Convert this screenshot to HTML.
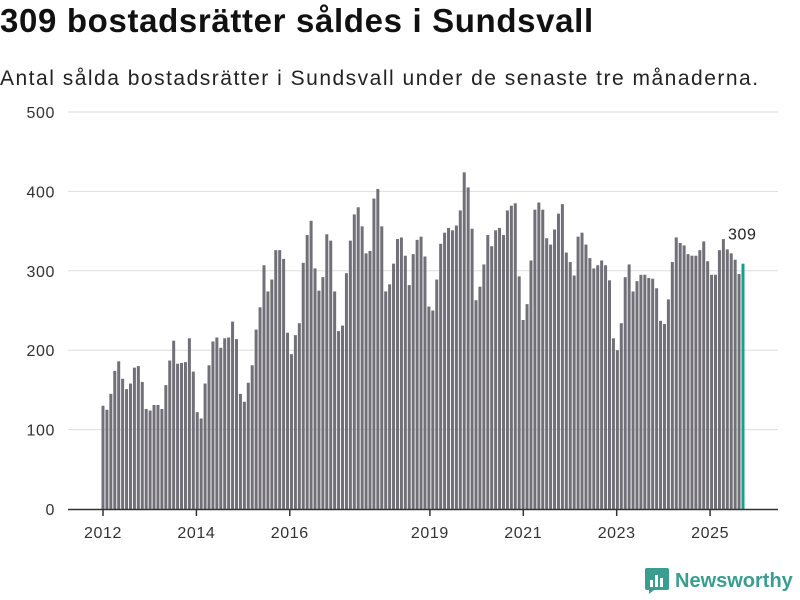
<!DOCTYPE html>
<html><head><meta charset="utf-8"><style>
body{margin:0;background:#fff;font-family:"Liberation Sans","DejaVu Sans",sans-serif;}
.wrap{position:relative;width:800px;height:600px;overflow:hidden}
h1{position:absolute;left:0;top:2px;margin:0;font-size:33px;letter-spacing:0.65px;font-weight:bold;color:#111;white-space:nowrap}
.sub{position:absolute;left:0;top:67px;font-size:21px;letter-spacing:1.5px;color:#222;white-space:nowrap}
svg{position:absolute;left:0;top:0}
.logo{position:absolute;left:645px;top:568px;display:flex;align-items:center;gap:6px;color:#3a9d8f;font-weight:bold;font-size:20px}
</style></head><body>
<div class="wrap">
<h1>309 bostadsrätter såldes i Sundsvall</h1>
<div class="sub">Antal sålda bostadsrätter i Sundsvall under de senaste tre månaderna.</div>
<svg id="c" width="800" height="600"></svg>
<div class="logo">
<svg width="24" height="26" viewBox="0 0 24 26" style="position:static"><rect x="0" y="0" width="24" height="22" rx="2" fill="#3a9d8f"/><path d="M4 22 L4 26 L9 22Z" fill="#3a9d8f"/><rect x="5" y="12" width="3" height="7" fill="#fff"/><rect x="10" y="7" width="3" height="12" fill="#fff"/><rect x="15" y="10" width="3" height="9" fill="#fff"/></svg>
<span>Newsworthy</span></div>
</div>
<script>
const values=[130,125,145,174,186,164,151,158,178,180,160,126,
124,131,131,126,156,187,212,183,184,185,215,173,
122,114,158,181,211,216,203,215,216,236,214,145,
135,159,181,226,254,307,274,289,326,326,315,222,
195,219,234,310,345,363,303,275,292,346,338,274,
224,231,297,338,371,380,356,322,325,391,403,356,
274,283,309,340,342,319,282,321,339,343,318,255,
250,289,334,348,354,351,357,376,424,405,353,263,
280,308,345,331,351,354,345,376,382,385,293,238,
258,313,377,386,377,341,333,352,372,384,323,311,
294,343,348,333,316,303,307,313,307,288,215,200,
234,292,308,274,287,295,295,291,290,278,237,233,
264,311,342,335,332,321,319,319,326,337,312,295,295,326,340,327,322,314,296,309];
const yTicks=[0,100,200,300,400,500];
const xTickYears=[2012,2014,2016,2019,2021,2023,2025];
const NS='http://www.w3.org/2000/svg';
const svg=document.getElementById('c');
const y=v=>509-v*0.794;
const xb=i=>103+i*(640/(values.length-1));
const xt=yr=>103+(yr-2012)*46.7;
function mk(t,a){const e=document.createElementNS(NS,t);for(const k in a)e.setAttribute(k,a[k]);svg.appendChild(e);return e;}
yTicks.forEach(t=>{
 if(t>0){const g=mk('line',{x1:68,x2:778,y1:y(t),y2:y(t),stroke:'#ddd','stroke-width':1});
 
 }
 const l=mk('text',{x:55,y:y(t)+6,'text-anchor':'end','font-size':16,'letter-spacing':0.6,fill:'#333','font-family':'Liberation Sans, sans-serif'});
 l.textContent=t;
 
 
});
values.forEach((v,i)=>{
 const last=i===values.length-1;
 const r=mk('rect',{x:xb(i)-1.5,y:y(v),width:3,height:509-y(v),fill:last?'#1a9e8f':'#716f77'});
 
 
});
const ax=mk('line',{x1:68,x2:778,y1:509.5,y2:509.5,stroke:'#333','stroke-width':1.5});


xTickYears.forEach(yr=>{
 const tk=mk('line',{x1:xt(yr),x2:xt(yr),y1:509,y2:516,stroke:'#333','stroke-width':1.5});
 
 
 const l=mk('text',{x:xt(yr),y:538,'text-anchor':'middle','font-size':16,'letter-spacing':0.6,fill:'#333','font-family':'Liberation Sans, sans-serif'});
 l.textContent=yr;
 
 
});
const lv=values[values.length-1];
const ann=mk('text',{x:xb(values.length-1)-15,y:y(lv)-24,'font-size':16,'letter-spacing':0.6,fill:'#222','font-family':'Liberation Sans, sans-serif'});
ann.textContent=lv;


</script>
</body></html>
